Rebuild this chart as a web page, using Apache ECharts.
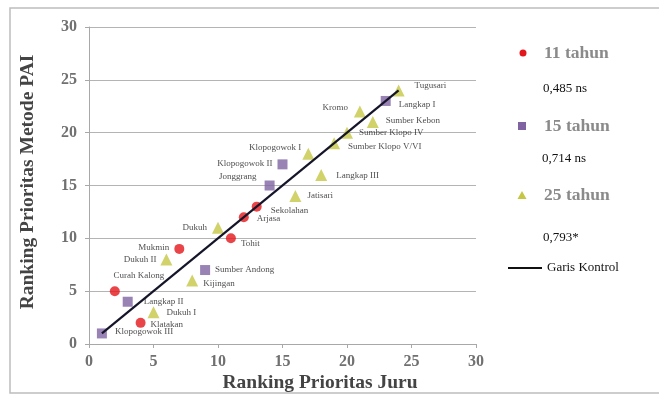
<!DOCTYPE html>
<html>
<head>
<meta charset="utf-8">
<script src="https://cdn.jsdelivr.net/npm/echarts@6/dist/echarts.min.js"></script>
<style>
  html, body { margin: 0; padding: 0; background: #ffffff; }
  #chart { width: 659px; height: 399px; }
</style>
</head>
<body>
<div id="chart"></div>
<script>
// Ranking prioritas: metode PAI vs juru, per umur tegakan
const names11 = ['Curah Kalong', 'Klatakan', 'Mukmin', 'Tohit', 'Arjasa', 'Sekolahan'];
const juru11 = [2, 4, 7, 11, 12, 13];
const pai11 = [5, 2, 9, 10, 12, 13];

const names15 = ['Klopogowok III', 'Langkap II', 'Sumber Andong', 'Jonggrang', 'Klopogowok II', 'Langkap I'];
const juru15 = [1, 3, 9, 14, 15, 23];
const pai15 = [1, 4, 7, 15, 17, 23];

const names25 = ['Dukuh I', 'Kijingan', 'Dukuh II', 'Dukuh', 'Jatisari', 'Langkap III', 'Klopogowok I',
  'Sumber Klopo V/VI', 'Sumber Klopo IV', 'Sumber Kebon', 'Kromo', 'Tugusari'];
const juru25 = [5, 8, 6, 10, 16, 18, 17, 19, 20, 22, 21, 24];
const pai25 = [3, 6, 8, 11, 14, 16, 18, 19, 20, 21, 22, 24];

const kontrolX = [1, 24];
const kontrolY = [1, 24];

const legendNames = ['11 tahun', '15 tahun', '25 tahun', 'Garis Kontrol'];
const korelasi = ['0,485 ns', '0,714 ns', '0,793*'];

const axisTicks = [0, 5, 10, 15, 20, 25, 30];

// where each site name sits next to its marker
const labelPlace = {
  'Tugusari': ['right', 10, [0, -5]],
  'Kromo': ['left', 6, [0, -4]],
  'Langkap I': ['right', 8, [0, 4]],
  'Sumber Kebon': ['right', 7, [0, -1]],
  'Sumber Klopo IV': ['right', 6, [0, 0]],
  'Sumber Klopo V/VI': ['right', 8, [0, 3]],
  'Langkap III': ['right', 9, [0, 1]],
  'Klopogowok I': ['left', 1, [0, -6]],
  'Klopogowok II': ['left', 5, [0, -1]],
  'Jonggrang': ['left', 8, [0, -9]],
  'Jatisari': ['right', 6, [0, 0]],
  'Sekolahan': ['right', 9, [0, 4]],
  'Arjasa': ['right', 8, [0, 1]],
  'Dukuh': ['left', 5, [0, 0]],
  'Tohit': ['right', 5, [0, 5]],
  'Mukmin': ['left', 5, [0, -1]],
  'Dukuh II': ['left', 4, [0, 0]],
  'Sumber Andong': ['right', 5, [0, 0]],
  'Kijingan': ['right', 5, [0, 3]],
  'Curah Kalong': ['top', 6, [24, 0]],
  'Langkap II': ['right', 11, [0, 0]],
  'Dukuh I': ['right', 7, [0, 0]],
  'Klatakan': ['right', 5, [0, 2]],
  'Klopogowok III': ['right', 8, [0, -2]]
};

const serif = '"Liberation Serif", "DejaVu Serif", serif';

function points(names, xs, ys) {
  return names.map((n, i) => {
    const p = labelPlace[n];
    return {
      name: n,
      value: [xs[i], ys[i]],
      label: { position: p[0], distance: p[1], offset: p[2] }
    };
  });
}

const pointLabel = {
  show: true,
  formatter: '{b}',
  fontFamily: serif,
  fontSize: 9,
  color: '#1a1a1a'
};

const chart = echarts.init(document.getElementById('chart'), null, { renderer: 'canvas' });

const legendX = 522;
const legendTextX = 543;

chart.setOption({
  animation: false,
  backgroundColor: '#ffffff',
  grid: { left: 89, right: 183, top: 27, bottom: 55, containLabel: false },
  xAxis: {
    type: 'value',
    min: 0, max: 30, interval: 5,
    axisLine: { show: true, lineStyle: { color: '#a8a8a8', width: 1 } },
    axisTick: { show: true, length: 4, lineStyle: { color: '#a8a8a8' } },
    axisLabel: {
      margin: 10, fontFamily: serif, fontWeight: 'bold', fontSize: 16, color: '#707070',
      formatter: v => axisTicks.includes(v) ? String(v) : ''
    },
    splitLine: { show: false }
  },
  yAxis: {
    type: 'value',
    min: 0, max: 30, interval: 5,
    axisLine: { show: true, lineStyle: { color: '#a8a8a8', width: 1 } },
    axisTick: { show: true, length: 4, lineStyle: { color: '#a8a8a8' } },
    axisLabel: {
      margin: 12, fontFamily: serif, fontWeight: 'bold', fontSize: 16, color: '#707070',
      formatter: v => axisTicks.includes(v) ? String(v) : ''
    },
    splitLine: { show: true, lineStyle: { color: '#b4b4b4', width: 1 } }
  },
  series: [
    {
      name: legendNames[0], type: 'scatter', symbol: 'circle', symbolSize: 10,
      itemStyle: { color: '#e3161b' },
      label: pointLabel,
      data: points(names11, juru11, pai11), z: 3
    },
    {
      name: legendNames[1], type: 'scatter', symbol: 'rect', symbolSize: 10,
      itemStyle: { color: '#8064a2' },
      label: pointLabel,
      data: points(names15, juru15, pai15), z: 3
    },
    {
      name: legendNames[2], type: 'scatter', symbol: 'triangle', symbolSize: 12,
      itemStyle: { color: '#c5c744' },
      label: pointLabel,
      data: points(names25, juru25, pai25), z: 3
    },
    {
      name: legendNames[3], type: 'line', symbol: 'none',
      lineStyle: { color: '#15152a', width: 2.2 },
      data: kontrolX.map((x, i) => [x, kontrolY[i]]), z: 5
    }
  ],
  graphic: [
    // frame around the figure
    { type: 'rect', z: -1, shape: { x: 10, y: 8, width: 660, height: 385 },
      style: { fill: 'none', stroke: '#bdbdbd', lineWidth: 1.5 } },
    // axis titles
    { type: 'text', x: 320, y: 383, style: {
        text: 'Ranking Prioritas Juru', fontFamily: serif, fontWeight: 'bold', fontSize: 19.5,
        fill: '#444', align: 'center', verticalAlign: 'middle' } },
    { type: 'text', x: 28, y: 182, rotation: Math.PI / 2, style: {
        text: 'Ranking Prioritas Metode PAI', fontFamily: serif, fontWeight: 'bold', fontSize: 19.5,
        fill: '#444', align: 'center', verticalAlign: 'middle' } },
    // legend
    { type: 'circle', shape: { cx: legendX + 1, cy: 53, r: 3.5 }, style: { fill: '#e3161b' } },
    { type: 'text', x: legendTextX + 1, y: 53, style: { text: legendNames[0], fontFamily: serif,
        fontWeight: 'bold', fontSize: 17.5, fill: '#8a8a8a', verticalAlign: 'middle' } },
    { type: 'text', x: legendTextX, y: 89, style: { text: korelasi[0], fontFamily: serif,
        fontSize: 13, fill: '#111', verticalAlign: 'middle' } },
    { type: 'rect', shape: { x: legendX - 4, y: 122, width: 8, height: 8 }, style: { fill: '#8064a2' } },
    { type: 'text', x: legendTextX + 1, y: 126, style: { text: legendNames[1], fontFamily: serif,
        fontWeight: 'bold', fontSize: 17.5, fill: '#8a8a8a', verticalAlign: 'middle' } },
    { type: 'text', x: legendTextX - 1, y: 159, style: { text: korelasi[1], fontFamily: serif,
        fontSize: 13, fill: '#111', verticalAlign: 'middle' } },
    { type: 'polygon', shape: { points: [[legendX, 191], [legendX + 4.5, 199], [legendX - 4.5, 199]] },
      style: { fill: '#c5c744' } },
    { type: 'text', x: legendTextX + 1, y: 195, style: { text: legendNames[2], fontFamily: serif,
        fontWeight: 'bold', fontSize: 17.5, fill: '#8a8a8a', verticalAlign: 'middle' } },
    { type: 'text', x: legendTextX, y: 238, style: { text: korelasi[2], fontFamily: serif,
        fontSize: 13, fill: '#111', verticalAlign: 'middle' } },
    { type: 'line', shape: { x1: 508, y1: 268, x2: 542, y2: 268 }, style: { stroke: '#111', lineWidth: 2 } },
    { type: 'text', x: 547, y: 268, style: { text: legendNames[3], fontFamily: serif,
        fontSize: 13, fill: '#111', verticalAlign: 'middle' } }
  ]
});
</script>
</body>
</html>
